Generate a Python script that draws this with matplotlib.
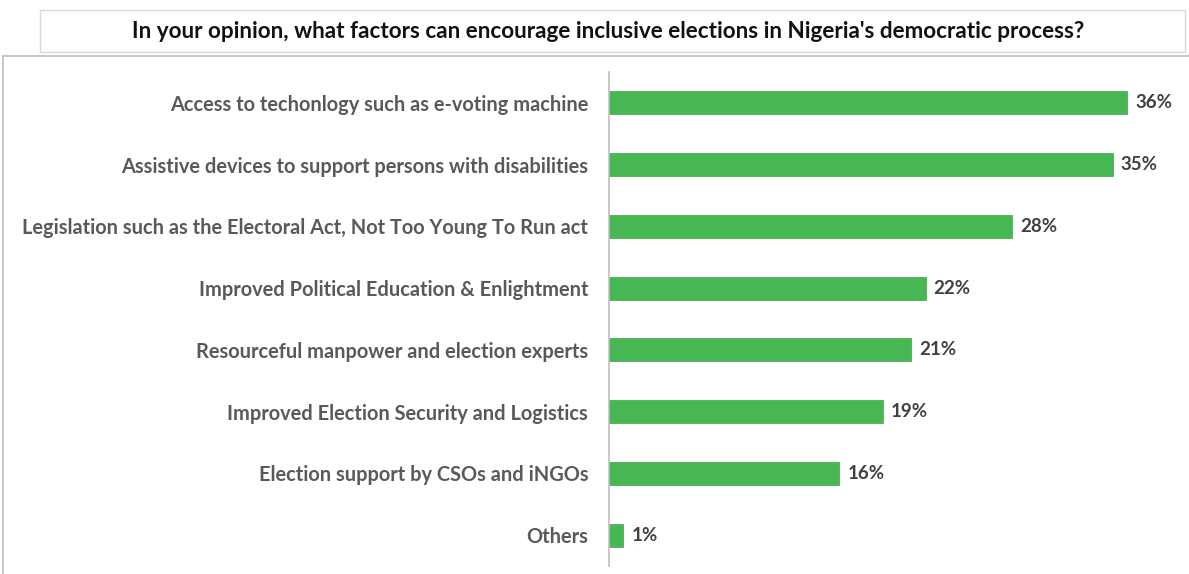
import matplotlib.pyplot as plt
from matplotlib.patches import Rectangle

factors = [
    "Access to techonlogy such as e-voting machine",
    "Assistive devices to support persons with disabilities",
    "Legislation such as the Electoral Act, Not Too Young To Run act",
    "Improved Political Education & Enlightment",
    "Resourceful manpower and election experts",
    "Improved Election Security and Logistics",
    "Election support by CSOs and iNGOs",
    "Others",
]
shares = [36, 35, 28, 22, 21, 19, 16, 1]
title = "In your opinion, what factors can encourage inclusive elections in Nigeria's democratic process?"

plt.rcParams['font.family'] = ['Lato', 'DejaVu Sans']

W, H = 1189, 574
fig = plt.figure(figsize=(W / 100, H / 100), dpi=100)

# title box and the panel frame behind the chart
fig.patches.append(Rectangle((40 / W, 1 - 52 / H), 1145 / W, 42 / H, transform=fig.transFigure,
                             facecolor='white', edgecolor='#d9d9d9', lw=1))
fig.add_artist(plt.Line2D([3 / W, 1], [1 - 56 / H, 1 - 56 / H], transform=fig.transFigure,
                          color='#bfbfbf', lw=1.2))
fig.add_artist(plt.Line2D([3 / W, 3 / W], [0, 1 - 56 / H], transform=fig.transFigure,
                          color='#bfbfbf', lw=1.2))
fig.text(0.5 * (130 + 1087) / W, 1 - 32 / H, title, ha='center', va='center',
         fontsize=16.2, fontweight='bold', color='#111111')

ax = fig.add_axes([609 / W, 8 / H, 576 / W, (566 - 72) / H])
y = range(len(factors))
ax.barh(y, shares, height=0.37, color='#47b754', edgecolor='#3fa34b', lw=0.5)
ax.set_xlim(0, 40)
ax.set_ylim(len(factors) - 0.5, -0.5)
ax.set_yticks(list(y))
ax.set_yticklabels(factors, fontsize=14.4, fontweight='bold', color='#595959')
ax.tick_params(axis='y', length=0, pad=15)
ax.set_xticks([])
for s in ['top', 'right', 'bottom']:
    ax.spines[s].set_visible(False)
ax.spines['left'].set_color('#bfbfbf')
ax.spines['left'].set_linewidth(1.2)

for i, v in enumerate(shares):
    ax.text(v + 0.55, i, f"{v}%", va='center', ha='left', fontsize=13.5,
            fontweight='bold', color='#404040')

fig.savefig('out.png', dpi=100)
